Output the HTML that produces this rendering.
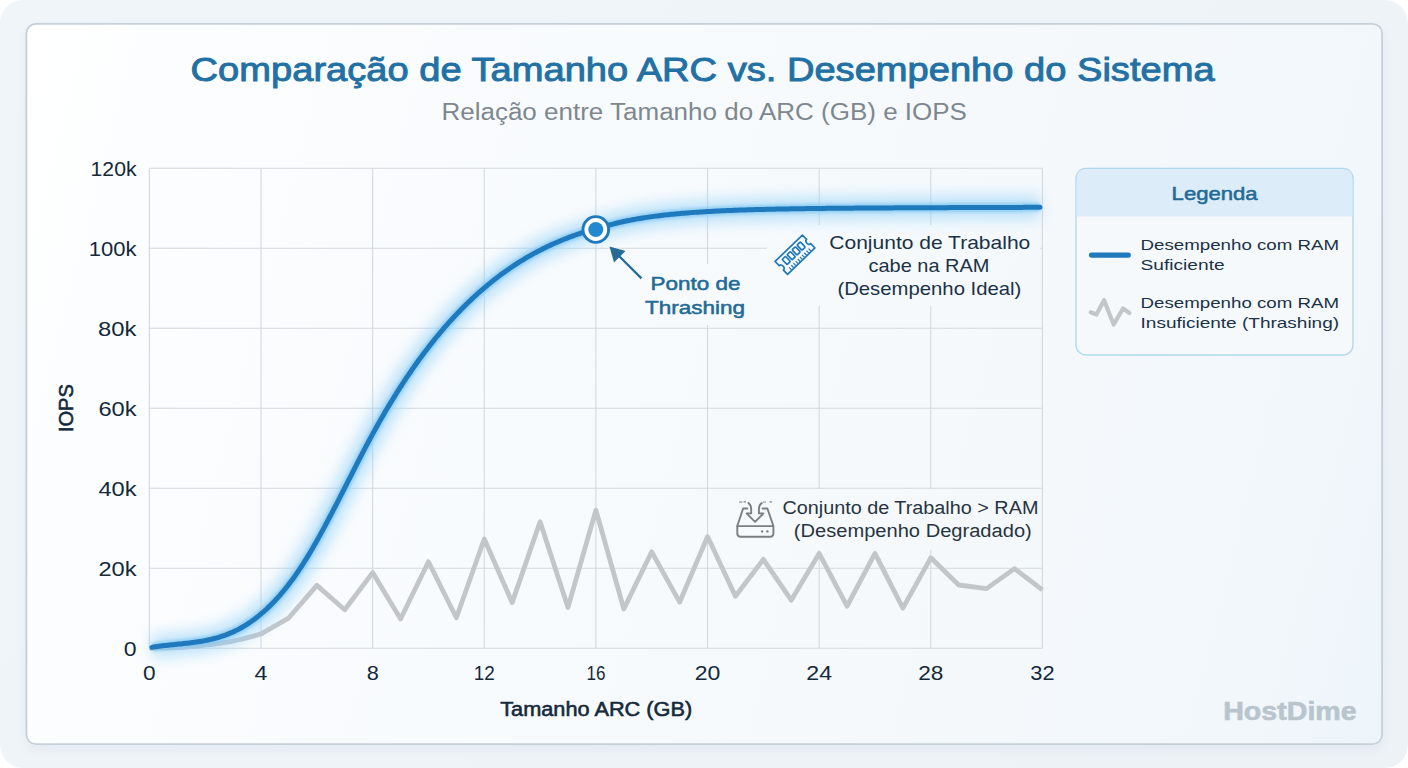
<!DOCTYPE html>
<html><head><meta charset="utf-8"><style>
html,body{margin:0;padding:0;width:1408px;height:768px;overflow:hidden;background:#ffffff;}
.outer{position:absolute;left:0;top:0;width:1408px;height:768px;border-radius:23px;background:linear-gradient(135deg,#f0f5f9 0%,#edf2f7 100%);}
.card{position:absolute;left:25.5px;top:23px;width:1357.5px;height:722px;border-radius:10px;background:#f4f8fb;box-shadow:0 5px 12px rgba(40,60,90,0.05);}
svg{position:absolute;left:0;top:0;}
text{font-family:"Liberation Sans",sans-serif;}
</style></head><body>
<div class="outer"></div>
<div class="card"></div>
<svg width="1408" height="768" viewBox="0 0 1408 768">
<defs><linearGradient id="cg" gradientUnits="userSpaceOnUse" x1="26" y1="24" x2="1473" y2="394"><stop offset="0" stop-color="#ffffff"/><stop offset="0.12" stop-color="#fbfdfe"/><stop offset="0.88" stop-color="#f2f7fb"/><stop offset="1" stop-color="#eef5fa"/></linearGradient><filter id="glow" x="-20%" y="-20%" width="140%" height="140%"><feGaussianBlur stdDeviation="7"/></filter><filter id="glow2" x="-20%" y="-20%" width="140%" height="140%"><feGaussianBlur stdDeviation="1.6"/></filter></defs>
<rect x="26.4" y="23.9" width="1355.7" height="720.2" rx="9.5" fill="url(#cg)" stroke="#c6d0d8" stroke-width="1.8"/>
<g stroke="#d3d9de" stroke-width="1.1"><line x1="149.4" y1="648.20" x2="1042.4" y2="648.20"/><line x1="149.4" y1="568.20" x2="1042.4" y2="568.20"/><line x1="149.4" y1="488.20" x2="1042.4" y2="488.20"/><line x1="149.4" y1="408.20" x2="1042.4" y2="408.20"/><line x1="149.4" y1="328.20" x2="1042.4" y2="328.20"/><line x1="149.4" y1="248.20" x2="1042.4" y2="248.20"/><line x1="149.4" y1="168.20" x2="1042.4" y2="168.20"/><line x1="149.40" y1="168.2" x2="149.40" y2="648.2"/><line x1="261.03" y1="168.2" x2="261.03" y2="648.2"/><line x1="372.65" y1="168.2" x2="372.65" y2="648.2"/><line x1="484.28" y1="168.2" x2="484.28" y2="648.2"/><line x1="595.90" y1="168.2" x2="595.90" y2="648.2"/><line x1="707.53" y1="168.2" x2="707.53" y2="648.2"/><line x1="819.15" y1="168.2" x2="819.15" y2="648.2"/><line x1="930.78" y1="168.2" x2="930.78" y2="648.2"/><line x1="1042.40" y1="168.2" x2="1042.40" y2="648.2"/></g>
<rect x="767" y="225" width="273" height="81" fill="url(#cg)"/>
<rect x="636" y="264" width="120" height="61" fill="url(#cg)"/>
<rect x="725" y="489" width="315" height="61" fill="url(#cg)"/>
<path d="M149.40,648.20 L153.25,648.18 L157.10,648.14 L160.95,648.07 L164.80,647.98 L168.65,647.88 L172.49,647.76 L176.34,647.63 L180.19,647.48 L184.04,647.25 L187.89,646.96 L191.74,646.62 L195.59,646.24 L199.44,645.83 L203.29,645.41 L207.14,644.98 L210.99,644.52 L214.84,644.01 L218.68,643.45 L222.53,642.86 L226.38,642.22 L230.23,641.54 L234.08,640.81 L237.93,640.02 L241.78,639.14 L245.63,638.20 L249.48,637.18 L253.33,636.11 L257.18,634.98 L261.03,633.80 L288.93,617.80 L316.84,585.40 L344.74,609.80 L372.65,572.60 L400.56,619.00 L428.46,561.80 L456.37,617.80 L484.28,539.00 L512.18,602.60 L540.09,521.80 L567.99,607.40 L595.90,510.20 L623.81,609.00 L651.71,551.80 L679.62,602.20 L707.53,536.60 L735.43,596.20 L763.34,559.40 L791.24,600.20 L819.15,553.40 L847.06,606.20 L874.96,553.40 L902.87,608.20 L930.78,557.80 L958.68,585.00 L986.59,588.60 L1014.49,568.60 L1042.40,589.80" fill="none" stroke="#c3c6c9" stroke-width="4.8" stroke-linejoin="round" stroke-linecap="butt"/>
<path d="M151.91,647.35 L153.69,647.05 L155.47,646.78 L157.25,646.52 L159.03,646.27 L160.81,646.04 L162.59,645.81 L164.37,645.60 L166.15,645.40 L167.93,645.20 L169.71,645.01 L171.49,644.82 L173.27,644.64 L175.05,644.46 L176.82,644.28 L178.60,644.10 L180.38,643.92 L182.16,643.74 L183.94,643.55 L185.72,643.36 L187.50,643.16 L189.28,642.95 L191.06,642.73 L192.84,642.51 L194.62,642.27 L196.40,642.02 L198.18,641.76 L199.96,641.48 L201.74,641.18 L203.52,640.87 L205.30,640.54 L207.08,640.18 L208.86,639.81 L210.64,639.41 L212.41,638.99 L214.19,638.54 L215.97,638.07 L217.75,637.57 L219.53,637.04 L221.31,636.48 L223.09,635.89 L224.87,635.27 L226.65,634.61 L228.43,633.91 L230.21,633.18 L231.99,632.42 L233.77,631.61 L235.55,630.76 L237.33,629.88 L239.11,628.95 L240.89,627.98 L242.67,626.97 L244.45,625.91 L246.23,624.81 L248.01,623.67 L249.78,622.48 L251.56,621.25 L253.34,619.98 L255.12,618.66 L256.90,617.29 L258.68,615.87 L260.46,614.41 L262.24,612.90 L264.02,611.34 L265.80,609.73 L267.58,608.08 L269.36,606.37 L271.14,604.61 L272.92,602.80 L274.70,600.94 L276.48,599.03 L278.26,597.07 L280.04,595.05 L281.82,592.98 L283.60,590.85 L285.38,588.67 L287.15,586.44 L288.93,584.15 L290.71,581.80 L292.49,579.39 L294.27,576.93 L296.05,574.41 L297.83,571.84 L299.61,569.20 L301.39,566.50 L303.17,563.75 L304.95,560.94 L306.73,558.07 L308.51,555.14 L310.29,552.17 L312.07,549.15 L313.85,546.08 L315.63,542.96 L317.41,539.81 L319.19,536.61 L320.97,533.38 L322.74,530.12 L324.52,526.82 L326.30,523.49 L328.08,520.14 L329.86,516.75 L331.64,513.35 L333.42,509.93 L335.20,506.48 L336.98,503.02 L338.76,499.55 L340.54,496.07 L342.32,492.58 L344.10,489.08 L345.88,485.58 L347.66,482.07 L349.44,478.57 L351.22,475.07 L353.00,471.57 L354.78,468.09 L356.56,464.61 L358.34,461.14 L360.11,457.69 L361.89,454.26 L363.67,450.85 L365.45,447.45 L367.23,444.09 L369.01,440.74 L370.79,437.43 L372.57,434.15 L374.35,430.90 L376.13,427.69 L377.91,424.50 L379.69,421.36 L381.47,418.24 L383.25,415.16 L385.03,412.11 L386.81,409.09 L388.59,406.10 L390.37,403.15 L392.15,400.23 L393.93,397.34 L395.70,394.48 L397.48,391.65 L399.26,388.85 L401.04,386.09 L402.82,383.35 L404.60,380.65 L406.38,377.97 L408.16,375.33 L409.94,372.72 L411.72,370.13 L413.50,367.58 L415.28,365.05 L417.06,362.55 L418.84,360.09 L420.62,357.65 L422.40,355.24 L424.18,352.86 L425.96,350.51 L427.74,348.18 L429.52,345.88 L431.30,343.61 L433.07,341.37 L434.85,339.16 L436.63,336.97 L438.41,334.81 L440.19,332.68 L441.97,330.57 L443.75,328.49 L445.53,326.44 L447.31,324.41 L449.09,322.41 L450.87,320.43 L452.65,318.48 L454.43,316.56 L456.21,314.66 L457.99,312.78 L459.77,310.93 L461.55,309.11 L463.33,307.31 L465.11,305.53 L466.89,303.78 L468.66,302.05 L470.44,300.34 L472.22,298.66 L474.00,297.00 L475.78,295.37 L477.56,293.75 L479.34,292.16 L481.12,290.60 L482.90,289.05 L484.68,287.53 L486.46,286.03 L488.24,284.55 L490.02,283.09 L491.80,281.66 L493.58,280.24 L495.36,278.85 L497.14,277.48 L498.92,276.13 L500.70,274.80 L502.48,273.49 L504.26,272.20 L506.03,270.93 L507.81,269.68 L509.59,268.44 L511.37,267.23 L513.15,266.04 L514.93,264.87 L516.71,263.71 L518.49,262.58 L520.27,261.46 L522.05,260.36 L523.83,259.28 L525.61,258.22 L527.39,257.18 L529.17,256.15 L530.95,255.14 L532.73,254.15 L534.51,253.17 L536.29,252.21 L538.07,251.27 L539.85,250.35 L541.62,249.44 L543.40,248.54 L545.18,247.67 L546.96,246.81 L548.74,245.96 L550.52,245.13 L552.30,244.32 L554.08,243.52 L555.86,242.73 L557.64,241.96 L559.42,241.20 L561.20,240.46 L562.98,239.74 L564.76,239.02 L566.54,238.32 L568.32,237.64 L570.10,236.96 L571.88,236.30 L573.66,235.66 L575.44,235.02 L577.22,234.40 L578.99,233.79 L580.77,233.20 L582.55,232.61 L584.33,232.04 L586.11,231.48 L587.89,230.93 L589.67,230.39 L591.45,229.86 L593.23,229.35 L595.01,228.84 L596.79,228.78 L598.57,228.20 L600.35,227.63 L602.13,227.08 L603.91,226.54 L605.69,226.02 L607.47,225.52 L609.25,225.03 L611.03,224.55 L612.81,224.09 L614.58,223.63 L616.36,223.20 L618.14,222.77 L619.92,222.36 L621.70,221.96 L623.48,221.56 L625.26,221.19 L627.04,220.82 L628.82,220.46 L630.60,220.11 L632.38,219.77 L634.16,219.44 L635.94,219.12 L637.72,218.81 L639.50,218.51 L641.28,218.22 L643.06,217.93 L644.84,217.65 L646.62,217.38 L648.40,217.12 L650.18,216.87 L651.95,216.62 L653.73,216.38 L655.51,216.14 L657.29,215.92 L659.07,215.70 L660.85,215.48 L662.63,215.27 L664.41,215.07 L666.19,214.87 L667.97,214.68 L669.75,214.49 L671.53,214.31 L673.31,214.14 L675.09,213.97 L676.87,213.80 L678.65,213.64 L680.43,213.48 L682.21,213.33 L683.99,213.18 L685.77,213.03 L687.54,212.89 L689.32,212.76 L691.10,212.62 L692.88,212.49 L694.66,212.37 L696.44,212.24 L698.22,212.13 L700.00,212.01 L701.78,211.90 L703.56,211.79 L705.34,211.68 L707.12,211.58 L708.90,211.48 L710.68,211.38 L712.46,211.28 L714.24,211.19 L716.02,211.10 L717.80,211.01 L719.58,210.93 L721.36,210.84 L723.14,210.76 L724.91,210.68 L726.69,210.61 L728.47,210.53 L730.25,210.46 L732.03,210.39 L733.81,210.32 L735.59,210.25 L737.37,210.19 L739.15,210.12 L740.93,210.06 L742.71,210.00 L744.49,209.94 L746.27,209.89 L748.05,209.83 L749.83,209.78 L751.61,209.72 L753.39,209.67 L755.17,209.62 L756.95,209.57 L758.73,209.53 L760.50,209.48 L762.28,209.44 L764.06,209.39 L765.84,209.35 L767.62,209.31 L769.40,209.27 L771.18,209.23 L772.96,209.19 L774.74,209.15 L776.52,209.11 L778.30,209.08 L780.08,209.04 L781.86,209.01 L783.64,208.98 L785.42,208.94 L787.20,208.91 L788.98,208.88 L790.76,208.85 L792.54,208.82 L794.32,208.79 L796.10,208.76 L797.87,208.74 L799.65,208.71 L801.43,208.68 L803.21,208.66 L804.99,208.63 L806.77,208.61 L808.55,208.58 L810.33,208.56 L812.11,208.54 L813.89,208.52 L815.67,208.49 L817.45,208.47 L819.23,208.45 L821.01,208.43 L822.79,208.41 L824.57,208.39 L826.35,208.37 L828.13,208.36 L829.91,208.34 L831.69,208.32 L833.46,208.30 L835.24,208.29 L837.02,208.27 L838.80,208.25 L840.58,208.24 L842.36,208.22 L844.14,208.20 L845.92,208.19 L847.70,208.17 L849.48,208.16 L851.26,208.15 L853.04,208.13 L854.82,208.12 L856.60,208.10 L858.38,208.09 L860.16,208.08 L861.94,208.07 L863.72,208.05 L865.50,208.04 L867.28,208.03 L869.06,208.02 L870.83,208.00 L872.61,207.99 L874.39,207.98 L876.17,207.97 L877.95,207.96 L879.73,207.95 L881.51,207.94 L883.29,207.93 L885.07,207.92 L886.85,207.91 L888.63,207.90 L890.41,207.89 L892.19,207.88 L893.97,207.87 L895.75,207.86 L897.53,207.85 L899.31,207.84 L901.09,207.83 L902.87,207.82 L904.65,207.81 L906.42,207.81 L908.20,207.80 L909.98,207.79 L911.76,207.78 L913.54,207.77 L915.32,207.76 L917.10,207.76 L918.88,207.75 L920.66,207.74 L922.44,207.73 L924.22,207.72 L926.00,207.72 L927.78,207.71 L929.56,207.70 L931.34,207.69 L933.12,207.69 L934.90,207.68 L936.68,207.67 L938.46,207.66 L940.24,207.66 L942.02,207.65 L943.79,207.64 L945.57,207.64 L947.35,207.63 L949.13,207.62 L950.91,207.62 L952.69,207.61 L954.47,207.60 L956.25,207.60 L958.03,207.59 L959.81,207.58 L961.59,207.58 L963.37,207.57 L965.15,207.56 L966.93,207.56 L968.71,207.55 L970.49,207.55 L972.27,207.54 L974.05,207.53 L975.83,207.53 L977.61,207.52 L979.39,207.52 L981.16,207.51 L982.94,207.50 L984.72,207.50 L986.50,207.49 L988.28,207.49 L990.06,207.48 L991.84,207.47 L993.62,207.47 L995.40,207.46 L997.18,207.46 L998.96,207.45 L1000.74,207.45 L1002.52,207.44 L1004.30,207.43 L1006.08,207.43 L1007.86,207.42 L1009.64,207.42 L1011.42,207.41 L1013.20,207.41 L1014.98,207.40 L1016.75,207.40 L1018.53,207.39 L1020.31,207.38 L1022.09,207.38 L1023.87,207.37 L1025.65,207.37 L1027.43,207.36 L1029.21,207.36 L1030.99,207.35 L1032.77,207.35 L1034.55,207.34 L1036.33,207.34 L1038.11,207.33 L1039.89,207.33" fill="none" stroke="#92d0f7" stroke-width="24" stroke-linecap="butt" opacity="0.55" filter="url(#glow)"/>
<path d="M151.91,647.35 L153.69,647.05 L155.47,646.78 L157.25,646.52 L159.03,646.27 L160.81,646.04 L162.59,645.81 L164.37,645.60 L166.15,645.40 L167.93,645.20 L169.71,645.01 L171.49,644.82 L173.27,644.64 L175.05,644.46 L176.82,644.28 L178.60,644.10 L180.38,643.92 L182.16,643.74 L183.94,643.55 L185.72,643.36 L187.50,643.16 L189.28,642.95 L191.06,642.73 L192.84,642.51 L194.62,642.27 L196.40,642.02 L198.18,641.76 L199.96,641.48 L201.74,641.18 L203.52,640.87 L205.30,640.54 L207.08,640.18 L208.86,639.81 L210.64,639.41 L212.41,638.99 L214.19,638.54 L215.97,638.07 L217.75,637.57 L219.53,637.04 L221.31,636.48 L223.09,635.89 L224.87,635.27 L226.65,634.61 L228.43,633.91 L230.21,633.18 L231.99,632.42 L233.77,631.61 L235.55,630.76 L237.33,629.88 L239.11,628.95 L240.89,627.98 L242.67,626.97 L244.45,625.91 L246.23,624.81 L248.01,623.67 L249.78,622.48 L251.56,621.25 L253.34,619.98 L255.12,618.66 L256.90,617.29 L258.68,615.87 L260.46,614.41 L262.24,612.90 L264.02,611.34 L265.80,609.73 L267.58,608.08 L269.36,606.37 L271.14,604.61 L272.92,602.80 L274.70,600.94 L276.48,599.03 L278.26,597.07 L280.04,595.05 L281.82,592.98 L283.60,590.85 L285.38,588.67 L287.15,586.44 L288.93,584.15 L290.71,581.80 L292.49,579.39 L294.27,576.93 L296.05,574.41 L297.83,571.84 L299.61,569.20 L301.39,566.50 L303.17,563.75 L304.95,560.94 L306.73,558.07 L308.51,555.14 L310.29,552.17 L312.07,549.15 L313.85,546.08 L315.63,542.96 L317.41,539.81 L319.19,536.61 L320.97,533.38 L322.74,530.12 L324.52,526.82 L326.30,523.49 L328.08,520.14 L329.86,516.75 L331.64,513.35 L333.42,509.93 L335.20,506.48 L336.98,503.02 L338.76,499.55 L340.54,496.07 L342.32,492.58 L344.10,489.08 L345.88,485.58 L347.66,482.07 L349.44,478.57 L351.22,475.07 L353.00,471.57 L354.78,468.09 L356.56,464.61 L358.34,461.14 L360.11,457.69 L361.89,454.26 L363.67,450.85 L365.45,447.45 L367.23,444.09 L369.01,440.74 L370.79,437.43 L372.57,434.15 L374.35,430.90 L376.13,427.69 L377.91,424.50 L379.69,421.36 L381.47,418.24 L383.25,415.16 L385.03,412.11 L386.81,409.09 L388.59,406.10 L390.37,403.15 L392.15,400.23 L393.93,397.34 L395.70,394.48 L397.48,391.65 L399.26,388.85 L401.04,386.09 L402.82,383.35 L404.60,380.65 L406.38,377.97 L408.16,375.33 L409.94,372.72 L411.72,370.13 L413.50,367.58 L415.28,365.05 L417.06,362.55 L418.84,360.09 L420.62,357.65 L422.40,355.24 L424.18,352.86 L425.96,350.51 L427.74,348.18 L429.52,345.88 L431.30,343.61 L433.07,341.37 L434.85,339.16 L436.63,336.97 L438.41,334.81 L440.19,332.68 L441.97,330.57 L443.75,328.49 L445.53,326.44 L447.31,324.41 L449.09,322.41 L450.87,320.43 L452.65,318.48 L454.43,316.56 L456.21,314.66 L457.99,312.78 L459.77,310.93 L461.55,309.11 L463.33,307.31 L465.11,305.53 L466.89,303.78 L468.66,302.05 L470.44,300.34 L472.22,298.66 L474.00,297.00 L475.78,295.37 L477.56,293.75 L479.34,292.16 L481.12,290.60 L482.90,289.05 L484.68,287.53 L486.46,286.03 L488.24,284.55 L490.02,283.09 L491.80,281.66 L493.58,280.24 L495.36,278.85 L497.14,277.48 L498.92,276.13 L500.70,274.80 L502.48,273.49 L504.26,272.20 L506.03,270.93 L507.81,269.68 L509.59,268.44 L511.37,267.23 L513.15,266.04 L514.93,264.87 L516.71,263.71 L518.49,262.58 L520.27,261.46 L522.05,260.36 L523.83,259.28 L525.61,258.22 L527.39,257.18 L529.17,256.15 L530.95,255.14 L532.73,254.15 L534.51,253.17 L536.29,252.21 L538.07,251.27 L539.85,250.35 L541.62,249.44 L543.40,248.54 L545.18,247.67 L546.96,246.81 L548.74,245.96 L550.52,245.13 L552.30,244.32 L554.08,243.52 L555.86,242.73 L557.64,241.96 L559.42,241.20 L561.20,240.46 L562.98,239.74 L564.76,239.02 L566.54,238.32 L568.32,237.64 L570.10,236.96 L571.88,236.30 L573.66,235.66 L575.44,235.02 L577.22,234.40 L578.99,233.79 L580.77,233.20 L582.55,232.61 L584.33,232.04 L586.11,231.48 L587.89,230.93 L589.67,230.39 L591.45,229.86 L593.23,229.35 L595.01,228.84 L596.79,228.78 L598.57,228.20 L600.35,227.63 L602.13,227.08 L603.91,226.54 L605.69,226.02 L607.47,225.52 L609.25,225.03 L611.03,224.55 L612.81,224.09 L614.58,223.63 L616.36,223.20 L618.14,222.77 L619.92,222.36 L621.70,221.96 L623.48,221.56 L625.26,221.19 L627.04,220.82 L628.82,220.46 L630.60,220.11 L632.38,219.77 L634.16,219.44 L635.94,219.12 L637.72,218.81 L639.50,218.51 L641.28,218.22 L643.06,217.93 L644.84,217.65 L646.62,217.38 L648.40,217.12 L650.18,216.87 L651.95,216.62 L653.73,216.38 L655.51,216.14 L657.29,215.92 L659.07,215.70 L660.85,215.48 L662.63,215.27 L664.41,215.07 L666.19,214.87 L667.97,214.68 L669.75,214.49 L671.53,214.31 L673.31,214.14 L675.09,213.97 L676.87,213.80 L678.65,213.64 L680.43,213.48 L682.21,213.33 L683.99,213.18 L685.77,213.03 L687.54,212.89 L689.32,212.76 L691.10,212.62 L692.88,212.49 L694.66,212.37 L696.44,212.24 L698.22,212.13 L700.00,212.01 L701.78,211.90 L703.56,211.79 L705.34,211.68 L707.12,211.58 L708.90,211.48 L710.68,211.38 L712.46,211.28 L714.24,211.19 L716.02,211.10 L717.80,211.01 L719.58,210.93 L721.36,210.84 L723.14,210.76 L724.91,210.68 L726.69,210.61 L728.47,210.53 L730.25,210.46 L732.03,210.39 L733.81,210.32 L735.59,210.25 L737.37,210.19 L739.15,210.12 L740.93,210.06 L742.71,210.00 L744.49,209.94 L746.27,209.89 L748.05,209.83 L749.83,209.78 L751.61,209.72 L753.39,209.67 L755.17,209.62 L756.95,209.57 L758.73,209.53 L760.50,209.48 L762.28,209.44 L764.06,209.39 L765.84,209.35 L767.62,209.31 L769.40,209.27 L771.18,209.23 L772.96,209.19 L774.74,209.15 L776.52,209.11 L778.30,209.08 L780.08,209.04 L781.86,209.01 L783.64,208.98 L785.42,208.94 L787.20,208.91 L788.98,208.88 L790.76,208.85 L792.54,208.82 L794.32,208.79 L796.10,208.76 L797.87,208.74 L799.65,208.71 L801.43,208.68 L803.21,208.66 L804.99,208.63 L806.77,208.61 L808.55,208.58 L810.33,208.56 L812.11,208.54 L813.89,208.52 L815.67,208.49 L817.45,208.47 L819.23,208.45 L821.01,208.43 L822.79,208.41 L824.57,208.39 L826.35,208.37 L828.13,208.36 L829.91,208.34 L831.69,208.32 L833.46,208.30 L835.24,208.29 L837.02,208.27 L838.80,208.25 L840.58,208.24 L842.36,208.22 L844.14,208.20 L845.92,208.19 L847.70,208.17 L849.48,208.16 L851.26,208.15 L853.04,208.13 L854.82,208.12 L856.60,208.10 L858.38,208.09 L860.16,208.08 L861.94,208.07 L863.72,208.05 L865.50,208.04 L867.28,208.03 L869.06,208.02 L870.83,208.00 L872.61,207.99 L874.39,207.98 L876.17,207.97 L877.95,207.96 L879.73,207.95 L881.51,207.94 L883.29,207.93 L885.07,207.92 L886.85,207.91 L888.63,207.90 L890.41,207.89 L892.19,207.88 L893.97,207.87 L895.75,207.86 L897.53,207.85 L899.31,207.84 L901.09,207.83 L902.87,207.82 L904.65,207.81 L906.42,207.81 L908.20,207.80 L909.98,207.79 L911.76,207.78 L913.54,207.77 L915.32,207.76 L917.10,207.76 L918.88,207.75 L920.66,207.74 L922.44,207.73 L924.22,207.72 L926.00,207.72 L927.78,207.71 L929.56,207.70 L931.34,207.69 L933.12,207.69 L934.90,207.68 L936.68,207.67 L938.46,207.66 L940.24,207.66 L942.02,207.65 L943.79,207.64 L945.57,207.64 L947.35,207.63 L949.13,207.62 L950.91,207.62 L952.69,207.61 L954.47,207.60 L956.25,207.60 L958.03,207.59 L959.81,207.58 L961.59,207.58 L963.37,207.57 L965.15,207.56 L966.93,207.56 L968.71,207.55 L970.49,207.55 L972.27,207.54 L974.05,207.53 L975.83,207.53 L977.61,207.52 L979.39,207.52 L981.16,207.51 L982.94,207.50 L984.72,207.50 L986.50,207.49 L988.28,207.49 L990.06,207.48 L991.84,207.47 L993.62,207.47 L995.40,207.46 L997.18,207.46 L998.96,207.45 L1000.74,207.45 L1002.52,207.44 L1004.30,207.43 L1006.08,207.43 L1007.86,207.42 L1009.64,207.42 L1011.42,207.41 L1013.20,207.41 L1014.98,207.40 L1016.75,207.40 L1018.53,207.39 L1020.31,207.38 L1022.09,207.38 L1023.87,207.37 L1025.65,207.37 L1027.43,207.36 L1029.21,207.36 L1030.99,207.35 L1032.77,207.35 L1034.55,207.34 L1036.33,207.34 L1038.11,207.33 L1039.89,207.33" fill="none" stroke="#7cc6f4" stroke-width="9" stroke-linecap="butt" opacity="0.7" filter="url(#glow2)"/>
<path d="M151.91,647.35 L153.69,647.05 L155.47,646.78 L157.25,646.52 L159.03,646.27 L160.81,646.04 L162.59,645.81 L164.37,645.60 L166.15,645.40 L167.93,645.20 L169.71,645.01 L171.49,644.82 L173.27,644.64 L175.05,644.46 L176.82,644.28 L178.60,644.10 L180.38,643.92 L182.16,643.74 L183.94,643.55 L185.72,643.36 L187.50,643.16 L189.28,642.95 L191.06,642.73 L192.84,642.51 L194.62,642.27 L196.40,642.02 L198.18,641.76 L199.96,641.48 L201.74,641.18 L203.52,640.87 L205.30,640.54 L207.08,640.18 L208.86,639.81 L210.64,639.41 L212.41,638.99 L214.19,638.54 L215.97,638.07 L217.75,637.57 L219.53,637.04 L221.31,636.48 L223.09,635.89 L224.87,635.27 L226.65,634.61 L228.43,633.91 L230.21,633.18 L231.99,632.42 L233.77,631.61 L235.55,630.76 L237.33,629.88 L239.11,628.95 L240.89,627.98 L242.67,626.97 L244.45,625.91 L246.23,624.81 L248.01,623.67 L249.78,622.48 L251.56,621.25 L253.34,619.98 L255.12,618.66 L256.90,617.29 L258.68,615.87 L260.46,614.41 L262.24,612.90 L264.02,611.34 L265.80,609.73 L267.58,608.08 L269.36,606.37 L271.14,604.61 L272.92,602.80 L274.70,600.94 L276.48,599.03 L278.26,597.07 L280.04,595.05 L281.82,592.98 L283.60,590.85 L285.38,588.67 L287.15,586.44 L288.93,584.15 L290.71,581.80 L292.49,579.39 L294.27,576.93 L296.05,574.41 L297.83,571.84 L299.61,569.20 L301.39,566.50 L303.17,563.75 L304.95,560.94 L306.73,558.07 L308.51,555.14 L310.29,552.17 L312.07,549.15 L313.85,546.08 L315.63,542.96 L317.41,539.81 L319.19,536.61 L320.97,533.38 L322.74,530.12 L324.52,526.82 L326.30,523.49 L328.08,520.14 L329.86,516.75 L331.64,513.35 L333.42,509.93 L335.20,506.48 L336.98,503.02 L338.76,499.55 L340.54,496.07 L342.32,492.58 L344.10,489.08 L345.88,485.58 L347.66,482.07 L349.44,478.57 L351.22,475.07 L353.00,471.57 L354.78,468.09 L356.56,464.61 L358.34,461.14 L360.11,457.69 L361.89,454.26 L363.67,450.85 L365.45,447.45 L367.23,444.09 L369.01,440.74 L370.79,437.43 L372.57,434.15 L374.35,430.90 L376.13,427.69 L377.91,424.50 L379.69,421.36 L381.47,418.24 L383.25,415.16 L385.03,412.11 L386.81,409.09 L388.59,406.10 L390.37,403.15 L392.15,400.23 L393.93,397.34 L395.70,394.48 L397.48,391.65 L399.26,388.85 L401.04,386.09 L402.82,383.35 L404.60,380.65 L406.38,377.97 L408.16,375.33 L409.94,372.72 L411.72,370.13 L413.50,367.58 L415.28,365.05 L417.06,362.55 L418.84,360.09 L420.62,357.65 L422.40,355.24 L424.18,352.86 L425.96,350.51 L427.74,348.18 L429.52,345.88 L431.30,343.61 L433.07,341.37 L434.85,339.16 L436.63,336.97 L438.41,334.81 L440.19,332.68 L441.97,330.57 L443.75,328.49 L445.53,326.44 L447.31,324.41 L449.09,322.41 L450.87,320.43 L452.65,318.48 L454.43,316.56 L456.21,314.66 L457.99,312.78 L459.77,310.93 L461.55,309.11 L463.33,307.31 L465.11,305.53 L466.89,303.78 L468.66,302.05 L470.44,300.34 L472.22,298.66 L474.00,297.00 L475.78,295.37 L477.56,293.75 L479.34,292.16 L481.12,290.60 L482.90,289.05 L484.68,287.53 L486.46,286.03 L488.24,284.55 L490.02,283.09 L491.80,281.66 L493.58,280.24 L495.36,278.85 L497.14,277.48 L498.92,276.13 L500.70,274.80 L502.48,273.49 L504.26,272.20 L506.03,270.93 L507.81,269.68 L509.59,268.44 L511.37,267.23 L513.15,266.04 L514.93,264.87 L516.71,263.71 L518.49,262.58 L520.27,261.46 L522.05,260.36 L523.83,259.28 L525.61,258.22 L527.39,257.18 L529.17,256.15 L530.95,255.14 L532.73,254.15 L534.51,253.17 L536.29,252.21 L538.07,251.27 L539.85,250.35 L541.62,249.44 L543.40,248.54 L545.18,247.67 L546.96,246.81 L548.74,245.96 L550.52,245.13 L552.30,244.32 L554.08,243.52 L555.86,242.73 L557.64,241.96 L559.42,241.20 L561.20,240.46 L562.98,239.74 L564.76,239.02 L566.54,238.32 L568.32,237.64 L570.10,236.96 L571.88,236.30 L573.66,235.66 L575.44,235.02 L577.22,234.40 L578.99,233.79 L580.77,233.20 L582.55,232.61 L584.33,232.04 L586.11,231.48 L587.89,230.93 L589.67,230.39 L591.45,229.86 L593.23,229.35 L595.01,228.84 L596.79,228.78 L598.57,228.20 L600.35,227.63 L602.13,227.08 L603.91,226.54 L605.69,226.02 L607.47,225.52 L609.25,225.03 L611.03,224.55 L612.81,224.09 L614.58,223.63 L616.36,223.20 L618.14,222.77 L619.92,222.36 L621.70,221.96 L623.48,221.56 L625.26,221.19 L627.04,220.82 L628.82,220.46 L630.60,220.11 L632.38,219.77 L634.16,219.44 L635.94,219.12 L637.72,218.81 L639.50,218.51 L641.28,218.22 L643.06,217.93 L644.84,217.65 L646.62,217.38 L648.40,217.12 L650.18,216.87 L651.95,216.62 L653.73,216.38 L655.51,216.14 L657.29,215.92 L659.07,215.70 L660.85,215.48 L662.63,215.27 L664.41,215.07 L666.19,214.87 L667.97,214.68 L669.75,214.49 L671.53,214.31 L673.31,214.14 L675.09,213.97 L676.87,213.80 L678.65,213.64 L680.43,213.48 L682.21,213.33 L683.99,213.18 L685.77,213.03 L687.54,212.89 L689.32,212.76 L691.10,212.62 L692.88,212.49 L694.66,212.37 L696.44,212.24 L698.22,212.13 L700.00,212.01 L701.78,211.90 L703.56,211.79 L705.34,211.68 L707.12,211.58 L708.90,211.48 L710.68,211.38 L712.46,211.28 L714.24,211.19 L716.02,211.10 L717.80,211.01 L719.58,210.93 L721.36,210.84 L723.14,210.76 L724.91,210.68 L726.69,210.61 L728.47,210.53 L730.25,210.46 L732.03,210.39 L733.81,210.32 L735.59,210.25 L737.37,210.19 L739.15,210.12 L740.93,210.06 L742.71,210.00 L744.49,209.94 L746.27,209.89 L748.05,209.83 L749.83,209.78 L751.61,209.72 L753.39,209.67 L755.17,209.62 L756.95,209.57 L758.73,209.53 L760.50,209.48 L762.28,209.44 L764.06,209.39 L765.84,209.35 L767.62,209.31 L769.40,209.27 L771.18,209.23 L772.96,209.19 L774.74,209.15 L776.52,209.11 L778.30,209.08 L780.08,209.04 L781.86,209.01 L783.64,208.98 L785.42,208.94 L787.20,208.91 L788.98,208.88 L790.76,208.85 L792.54,208.82 L794.32,208.79 L796.10,208.76 L797.87,208.74 L799.65,208.71 L801.43,208.68 L803.21,208.66 L804.99,208.63 L806.77,208.61 L808.55,208.58 L810.33,208.56 L812.11,208.54 L813.89,208.52 L815.67,208.49 L817.45,208.47 L819.23,208.45 L821.01,208.43 L822.79,208.41 L824.57,208.39 L826.35,208.37 L828.13,208.36 L829.91,208.34 L831.69,208.32 L833.46,208.30 L835.24,208.29 L837.02,208.27 L838.80,208.25 L840.58,208.24 L842.36,208.22 L844.14,208.20 L845.92,208.19 L847.70,208.17 L849.48,208.16 L851.26,208.15 L853.04,208.13 L854.82,208.12 L856.60,208.10 L858.38,208.09 L860.16,208.08 L861.94,208.07 L863.72,208.05 L865.50,208.04 L867.28,208.03 L869.06,208.02 L870.83,208.00 L872.61,207.99 L874.39,207.98 L876.17,207.97 L877.95,207.96 L879.73,207.95 L881.51,207.94 L883.29,207.93 L885.07,207.92 L886.85,207.91 L888.63,207.90 L890.41,207.89 L892.19,207.88 L893.97,207.87 L895.75,207.86 L897.53,207.85 L899.31,207.84 L901.09,207.83 L902.87,207.82 L904.65,207.81 L906.42,207.81 L908.20,207.80 L909.98,207.79 L911.76,207.78 L913.54,207.77 L915.32,207.76 L917.10,207.76 L918.88,207.75 L920.66,207.74 L922.44,207.73 L924.22,207.72 L926.00,207.72 L927.78,207.71 L929.56,207.70 L931.34,207.69 L933.12,207.69 L934.90,207.68 L936.68,207.67 L938.46,207.66 L940.24,207.66 L942.02,207.65 L943.79,207.64 L945.57,207.64 L947.35,207.63 L949.13,207.62 L950.91,207.62 L952.69,207.61 L954.47,207.60 L956.25,207.60 L958.03,207.59 L959.81,207.58 L961.59,207.58 L963.37,207.57 L965.15,207.56 L966.93,207.56 L968.71,207.55 L970.49,207.55 L972.27,207.54 L974.05,207.53 L975.83,207.53 L977.61,207.52 L979.39,207.52 L981.16,207.51 L982.94,207.50 L984.72,207.50 L986.50,207.49 L988.28,207.49 L990.06,207.48 L991.84,207.47 L993.62,207.47 L995.40,207.46 L997.18,207.46 L998.96,207.45 L1000.74,207.45 L1002.52,207.44 L1004.30,207.43 L1006.08,207.43 L1007.86,207.42 L1009.64,207.42 L1011.42,207.41 L1013.20,207.41 L1014.98,207.40 L1016.75,207.40 L1018.53,207.39 L1020.31,207.38 L1022.09,207.38 L1023.87,207.37 L1025.65,207.37 L1027.43,207.36 L1029.21,207.36 L1030.99,207.35 L1032.77,207.35 L1034.55,207.34 L1036.33,207.34 L1038.11,207.33 L1039.89,207.33" fill="none" stroke="#1f7abd" stroke-width="5" stroke-linecap="round" stroke-linejoin="round"/>
<circle cx="595.8" cy="229.5" r="14.3" fill="#1f7abd"/><circle cx="595.8" cy="229.5" r="11.4" fill="#ffffff"/><circle cx="595.8" cy="229.5" r="7.5" fill="#2288d0"/>
<line x1="641.5" y1="278.4" x2="615" y2="252" stroke="#256b96" stroke-width="2.2"/>
<path d="M609.5,246.5 L625.5,251 L614,262.5 Z" fill="#256b96"/>
<text x="136.5" y="655.8" font-size="20" fill="#14293b" font-weight="400" text-anchor="end" textLength="12.8" lengthAdjust="spacingAndGlyphs" >0</text>
<text x="136.5" y="575.8" font-size="20" fill="#14293b" font-weight="400" text-anchor="end" textLength="38.1" lengthAdjust="spacingAndGlyphs" >20k</text>
<text x="136.5" y="495.8" font-size="20" fill="#14293b" font-weight="400" text-anchor="end" textLength="38.1" lengthAdjust="spacingAndGlyphs" >40k</text>
<text x="136.5" y="415.8" font-size="20" fill="#14293b" font-weight="400" text-anchor="end" textLength="38.1" lengthAdjust="spacingAndGlyphs" >60k</text>
<text x="136.5" y="335.8" font-size="20" fill="#14293b" font-weight="400" text-anchor="end" textLength="38.4" lengthAdjust="spacingAndGlyphs" >80k</text>
<text x="136.5" y="255.8" font-size="20" fill="#14293b" font-weight="400" text-anchor="end" textLength="47.8" lengthAdjust="spacingAndGlyphs" >100k</text>
<text x="136.5" y="175.8" font-size="20" fill="#14293b" font-weight="400" text-anchor="end" textLength="45.9" lengthAdjust="spacingAndGlyphs" >120k</text>
<text x="149.4" y="679.8" font-size="20" fill="#14293b" font-weight="400" text-anchor="middle" textLength="12.6" lengthAdjust="spacingAndGlyphs" >0</text>
<text x="261.0" y="679.8" font-size="20" fill="#14293b" font-weight="400" text-anchor="middle" textLength="12.9" lengthAdjust="spacingAndGlyphs" >4</text>
<text x="372.7" y="679.8" font-size="20" fill="#14293b" font-weight="400" text-anchor="middle" textLength="12.1" lengthAdjust="spacingAndGlyphs" >8</text>
<text x="484.3" y="679.8" font-size="20" fill="#14293b" font-weight="400" text-anchor="middle" textLength="21.1" lengthAdjust="spacingAndGlyphs" >12</text>
<text x="595.9" y="679.8" font-size="20" fill="#14293b" font-weight="400" text-anchor="middle" textLength="19.0" lengthAdjust="spacingAndGlyphs" >16</text>
<text x="707.5" y="679.8" font-size="20" fill="#14293b" font-weight="400" text-anchor="middle" textLength="25.6" lengthAdjust="spacingAndGlyphs" >20</text>
<text x="819.2" y="679.8" font-size="20" fill="#14293b" font-weight="400" text-anchor="middle" textLength="25.8" lengthAdjust="spacingAndGlyphs" >24</text>
<text x="930.8" y="679.8" font-size="20" fill="#14293b" font-weight="400" text-anchor="middle" textLength="25.2" lengthAdjust="spacingAndGlyphs" >28</text>
<text x="1042.4" y="679.8" font-size="20" fill="#14293b" font-weight="400" text-anchor="middle" textLength="24.2" lengthAdjust="spacingAndGlyphs" >32</text>
<text x="596.2" y="715.5" font-size="20" fill="#14293b" stroke="#14293b" stroke-width="0.56" font-weight="400" text-anchor="middle" textLength="192" lengthAdjust="spacingAndGlyphs" >Tamanho ARC (GB)</text>
<text transform="translate(73.2,408.1) rotate(-90)" font-size="20" fill="#14293b" stroke="#14293b" stroke-width="0.56" font-weight="400" text-anchor="middle" textLength="48" lengthAdjust="spacingAndGlyphs">IOPS</text>
<text x="702.6" y="80.7" font-size="33" fill="#2371a4" stroke="#2371a4" stroke-width="0.92" font-weight="400" text-anchor="middle" textLength="1024" lengthAdjust="spacingAndGlyphs" >Comparação de Tamanho ARC vs. Desempenho do Sistema</text>
<text x="704.2" y="119.5" font-size="23" fill="#7e878f" font-weight="400" text-anchor="middle" textLength="525.5" lengthAdjust="spacingAndGlyphs" >Relação entre Tamanho do ARC (GB) e IOPS</text>
<text x="695.5" y="289.9" font-size="19" fill="#236a96" stroke="#236a96" stroke-width="0.53" font-weight="400" text-anchor="middle" textLength="90" lengthAdjust="spacingAndGlyphs" >Ponto de</text>
<text x="695.1" y="313.8" font-size="19" fill="#236a96" stroke="#236a96" stroke-width="0.53" font-weight="400" text-anchor="middle" textLength="100" lengthAdjust="spacingAndGlyphs" >Thrashing</text>
<text x="929.8" y="249.3" font-size="19" fill="#1a3248" font-weight="400" text-anchor="middle" textLength="201" lengthAdjust="spacingAndGlyphs" >Conjunto de Trabalho</text>
<text x="929.0" y="272" font-size="19" fill="#1a3248" font-weight="400" text-anchor="middle" textLength="121" lengthAdjust="spacingAndGlyphs" >cabe na RAM</text>
<text x="929.4" y="295" font-size="19" fill="#1a3248" font-weight="400" text-anchor="middle" textLength="184" lengthAdjust="spacingAndGlyphs" >(Desempenho Ideal)</text>
<g transform="translate(795,254.7) rotate(-44)" fill="none" stroke="#1f78b8" stroke-width="1.7" stroke-linejoin="round">
<path d="M-19,-9 H19 V-3 Q16.5,-3 16.5,0 Q16.5,3 19,3 V9 H-19 V3 Q-16.5,3 -16.5,0 Q-16.5,-3 -19,-3 Z"/>
<rect x="-12.6" y="-5.5" width="4.6" height="7.2" rx="1"/><rect x="-5.7" y="-5.5" width="4.6" height="7.2" rx="1"/><rect x="1.2" y="-5.5" width="4.6" height="7.2" rx="1"/><rect x="8.1" y="-5.5" width="4.6" height="7.2" rx="1"/>
<path d="M-13,5 V8.5 M-10,5 V8.5 M-7,5 V8.5 M-4,5 V8.5 M-1,5 V8.5 M2,5 V8.5 M5,5 V8.5 M8,5 V8.5 M11,5 V8.5 M14,5 V8.5" stroke-width="1.2"/>
</g>
<text x="910.4" y="514" font-size="18" fill="#27343f" font-weight="400" text-anchor="middle" textLength="256" lengthAdjust="spacingAndGlyphs" >Conjunto de Trabalho &gt; RAM</text>
<text x="912.8" y="536.6" font-size="18" fill="#27343f" font-weight="400" text-anchor="middle" textLength="238" lengthAdjust="spacingAndGlyphs" >(Desempenho Degradado)</text>
<g fill="none" stroke="#7b7f84" stroke-width="1.9" stroke-linecap="round" stroke-linejoin="round">
<path d="M747.3,508.5 H743.1 L737.3,526 V533.5 Q737.3,536.7 740.5,536.7 H770.2 Q773.4,536.7 773.4,533.5 V526 L767.4,508.5 H762.5"/>
<path d="M737.5,526.1 H773.2"/>
<path d="M748.4,503 Q751.2,505 751.2,509 V513.4 H746.6 L755.1,521.9 L763.4,513.4 H758.9 V509 Q758.9,505 761.8,503"/>
<path d="M739.5,502 H742 M744,501.8 H745.5 M763.5,502 H765.5 M770,501.8 H771.5" stroke-width="1.2"/>
</g>
<circle cx="762.1" cy="531.4" r="1.2" fill="#7b7f84"/><circle cx="767.4" cy="531.4" r="1.2" fill="#7b7f84"/>
<rect x="1076" y="168.5" width="277" height="186.5" rx="10" fill="#f6f9fc" stroke="#b3d7ee" stroke-width="1.4"/>
<path d="M1076.7,216.6 V178.5 Q1076.7,169.2 1086,169.2 H1343 Q1352.3,169.2 1352.3,178.5 V216.6 Z" fill="#dcecf8"/>
<text x="1214.6" y="200.4" font-size="19" fill="#236b96" stroke="#236b96" stroke-width="0.53" font-weight="400" text-anchor="middle" textLength="86" lengthAdjust="spacingAndGlyphs" >Legenda</text>
<line x1="1091.5" y1="255.1" x2="1128.3" y2="255.1" stroke="#1f7abd" stroke-width="5.2" stroke-linecap="round"/>
<path d="M1090.7,312.3 L1096.5,314.5 L1104,300.2 L1113.7,324.5 L1123,308.5 L1129.4,313" fill="none" stroke="#c3c6c9" stroke-width="4.2" stroke-linecap="round" stroke-linejoin="round"/>
<text x="1140.6" y="250.1" font-size="15" fill="#1a3248" font-weight="400" text-anchor="start" textLength="198.5" lengthAdjust="spacingAndGlyphs" >Desempenho com RAM</text>
<text x="1140.6" y="270.3" font-size="15" fill="#1a3248" font-weight="400" text-anchor="start" textLength="84" lengthAdjust="spacingAndGlyphs" >Suficiente</text>
<text x="1140.6" y="307.6" font-size="15" fill="#1a3248" font-weight="400" text-anchor="start" textLength="198.5" lengthAdjust="spacingAndGlyphs" >Desempenho com RAM</text>
<text x="1140.6" y="327.7" font-size="15" fill="#1a3248" font-weight="400" text-anchor="start" textLength="198.5" lengthAdjust="spacingAndGlyphs" >Insuficiente (Thrashing)</text>
<text x="1223.2" y="719.9" font-size="25" fill="#b9c5cd" font-weight="700" text-anchor="start" textLength="133.5" lengthAdjust="spacingAndGlyphs" stroke="#b9c5cd" stroke-width="0.6">HostDime</text>
</svg>
</body></html>
